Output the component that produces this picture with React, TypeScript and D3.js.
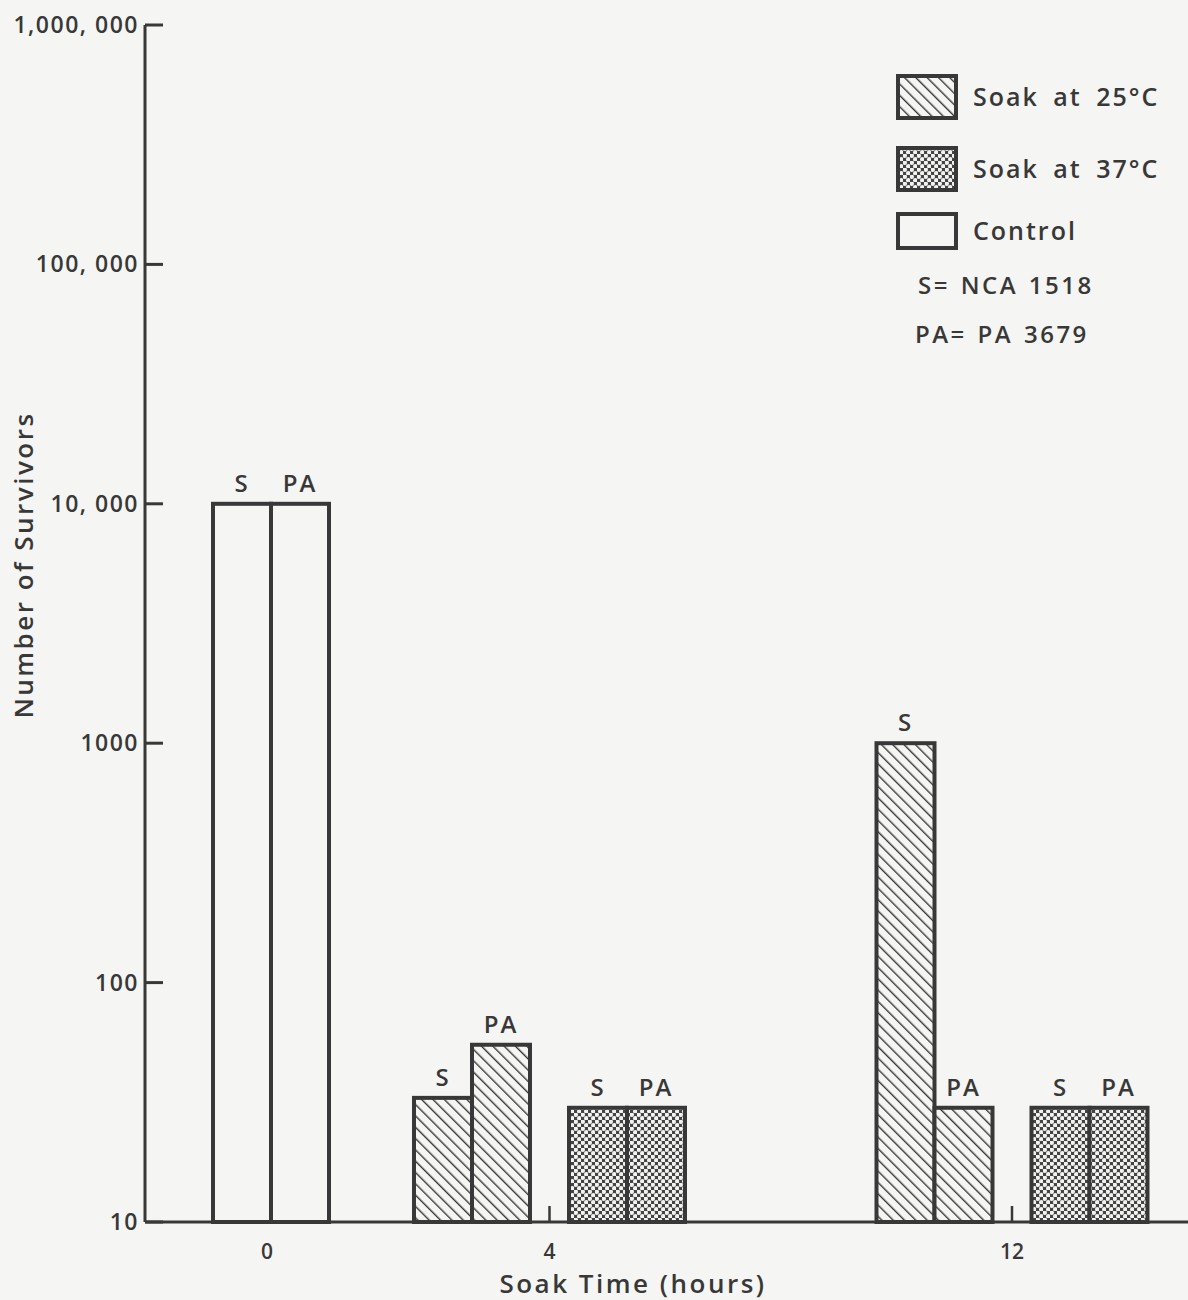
import React from 'react';
import * as d3 from 'd3';

const times = ['0', '4', '12'];
const treatments = ['Control', 'Soak at 25°C', 'Soak at 37°C'];
const strains = ['S', 'PA'];

const barTime = ['0', '0', '4', '4', '4', '4', '12', '12', '12', '12'];
const barTreatment = ['Control', 'Control', 'Soak at 25°C', 'Soak at 25°C', 'Soak at 37°C', 'Soak at 37°C', 'Soak at 25°C', 'Soak at 25°C', 'Soak at 37°C', 'Soak at 37°C'];
const barStrain = ['S', 'PA', 'S', 'PA', 'S', 'PA', 'S', 'PA', 'S', 'PA'];
const barValue = [10000, 10000, 33, 55, 30, 30, 1000, 30, 30, 30];

const yTicks = [10, 100, 1000, 10000, 100000, 1000000];
const yTickLabels = ['10', '100', '1000', '10, 000', '100, 000', '1,000, 000'];

const legendNotes = ['S= NCA 1518', 'PA= PA 3679'];

const INK = '#383838';
const BG = '#f5f5f3';
const FONT = '"Open Sans", "DejaVu Sans", sans-serif';

export default function App() {
  const W = 1188, H = 1300;
  const axisX = 145;
  const y = d3.scaleLog().domain([10, 1000000]).range([1222, 25]);
  const x = d3.scaleOrdinal<string, number>().domain(times).range([271, 549.5, 1012]);
  const pairScale = d3.scaleBand<string>().domain(['Soak at 25°C', 'Soak at 37°C']).range([-155, 155]);
  const strainScale = d3.scaleBand<string>().domain(strains).range([-58, 58]);

  const bars = barValue.map((v, i) => {
    const t = barTime[i];
    const tr = barTreatment[i];
    const inGroup = new Set(barTime.map((bt, j) => (bt === t ? barTreatment[j] : null)).filter(Boolean));
    const pairCenter = inGroup.size > 1 ? (pairScale(tr)! + pairScale.bandwidth() / 2) : 0;
    const x0 = x(t) + pairCenter + strainScale(barStrain[i])!;
    return { x0, w: strainScale.bandwidth(), top: y(v), tr, strain: barStrain[i], v };
  });

  const fillFor = (tr: string) =>
    tr === treatments[1] ? 'url(#hatch)' : tr === treatments[2] ? 'url(#dots)' : 'none';

  return (
    <svg width={W} height={H} style={{ position: 'absolute', left: 0, top: 0, background: BG }}
      fontFamily={FONT} fontWeight={600}>
      <defs>
        <pattern id="hatch" patternUnits="userSpaceOnUse" width={8} height={8} patternTransform="rotate(-45)">
          <rect width={8} height={8} fill={BG} />
          <line x1={0} y1={0} x2={0} y2={8} stroke={INK} strokeWidth={2.8} />
        </pattern>
        <pattern id="dots" patternUnits="userSpaceOnUse" width={7} height={7}>
          <rect width={7} height={7} fill="#444" />
          <circle cx={1.75} cy={1.75} r={2.25} fill="#f2f2f0" />
          <circle cx={5.25} cy={5.25} r={2.25} fill="#f2f2f0" />
        </pattern>
      </defs>
      <rect width={W} height={H} fill={BG} />

      {/* bars */}
      {bars.map((b, i) => (
        <g key={i}>
          <rect x={b.x0} y={b.top} width={b.w} height={y(10) - b.top}
            fill={fillFor(b.tr)} stroke={INK} strokeWidth={4} />
          <text x={b.x0 + b.w / 2} y={b.top - 12} textAnchor="middle" fontSize={24} fill={INK} letterSpacing={2}>
            {b.strain}
          </text>
        </g>
      ))}

      {/* axes */}
      <line x1={axisX} y1={y(1000000)} x2={axisX} y2={y(10)} stroke={INK} strokeWidth={3} />
      <line x1={axisX} y1={y(10)} x2={W} y2={y(10)} stroke={INK} strokeWidth={3} />
      {yTicks.map((t, i) => (
        <g key={t}>
          <line x1={axisX} x2={axisX + 18} y1={y(t)} y2={y(t)} stroke={INK} strokeWidth={3} />
          <text x={axisX - 6} y={y(t) + 8} textAnchor="end" fontSize={23} fill={INK} letterSpacing={1.5}>
            {yTickLabels[i]}
          </text>
        </g>
      ))}
      {times.map((t) => (
        <g key={t}>
          {t !== '0' && (
            <line x1={x(t)} x2={x(t)} y1={y(10)} y2={y(10) - 16} stroke={INK} strokeWidth={2.5} />
          )}
          <text x={x(t) - (t === '0' ? 4 : 0)} y={1259} textAnchor="middle" fontSize={21} fill={INK}>{t}</text>
        </g>
      ))}
      <text x={633} y={1293} textAnchor="middle" fontSize={26} fill={INK} letterSpacing={2.5}>Soak Time (hours)</text>
      <text transform="translate(33,565) rotate(-90)" textAnchor="middle" fontSize={26} fill={INK} letterSpacing={2.5}>
        Number of Survivors
      </text>

      {/* legend */}
      {treatments.slice(1).concat(treatments[0]).map((tr, i) => {
        const ys = [97, 169, 231];
        const hs = [42, 42, 34];
        return (
          <g key={tr}>
            <rect x={898} y={ys[i] - hs[i] / 2} width={58} height={hs[i]} fill={fillFor(tr)}
              stroke={INK} strokeWidth={4} />
            <text x={973} y={ys[i] + 9} fontSize={25} fill={INK} letterSpacing={2} wordSpacing={6}>{tr}</text>
          </g>
        );
      })}
      {legendNotes.map((n, i) => (
        <text key={n} x={i === 0 ? 918 : 915} y={294 + i * 49} fontSize={24} fill={INK} letterSpacing={2.5} wordSpacing={2}>{n}</text>
      ))}
    </svg>
  );
}
